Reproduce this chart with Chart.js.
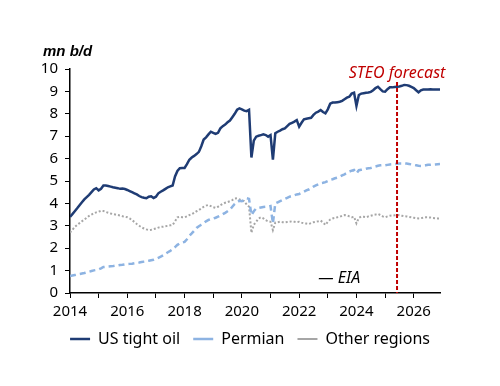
<!DOCTYPE html>
<html>
<head>
<meta charset="utf-8">
<script src="https://cdn.jsdelivr.net/npm/chart.js@4.4.1/dist/chart.umd.min.js"></script>
<style>
  html, body { margin: 0; padding: 0; background: #fff; }
  #wrap { width: 500px; height: 386px; position: relative; }
</style>
</head>
<body>
<div id="wrap"><canvas id="chart"></canvas></div>
<script>
// monthly data, Jan 2014 - Dec 2026 (mn b/d)
const startYear = 2014;
const forecastStart = 2025 + 5 / 12; // Jun 2025

const tightOil = [
  3.40, 3.52, 3.65, 3.78, 3.92, 4.05, 4.18, 4.28, 4.38, 4.50, 4.62, 4.68, // 2014
  4.58, 4.65, 4.80, 4.80, 4.78, 4.75, 4.72, 4.70, 4.68, 4.65, 4.66, 4.64, // 2015
  4.60, 4.55, 4.50, 4.45, 4.40, 4.33, 4.28, 4.25, 4.23, 4.30, 4.32, 4.24, // 2016
  4.30, 4.45, 4.52, 4.58, 4.65, 4.72, 4.76, 4.80, 5.20, 5.45, 5.57, 5.58, // 2017
  5.58, 5.75, 5.95, 6.05, 6.12, 6.20, 6.30, 6.55, 6.85, 6.95, 7.08, 7.20, // 2018
  7.15, 7.10, 7.15, 7.35, 7.45, 7.52, 7.62, 7.70, 7.85, 8.00, 8.18, 8.24, // 2019
  8.20, 8.14, 8.12, 8.18, 6.05, 6.80, 6.98, 7.02, 7.05, 7.08, 7.05, 6.98, // 2020
  7.05, 5.95, 7.13, 7.20, 7.25, 7.31, 7.35, 7.45, 7.55, 7.60, 7.65, 7.72, // 2021
  7.43, 7.60, 7.75, 7.78, 7.80, 7.82, 7.95, 8.05, 8.10, 8.17, 8.08, 8.02, // 2022
  8.20, 8.45, 8.50, 8.50, 8.52, 8.54, 8.58, 8.65, 8.72, 8.76, 8.90, 8.94, // 2023
  8.35, 8.84, 8.90, 8.92, 8.94, 8.95, 8.98, 9.05, 9.15, 9.21, 9.10, 9.00, // 2024
  8.99, 9.10, 9.18, 9.18, 9.20, 9.21, 9.22, 9.25, 9.29, 9.28, 9.25, 9.20, // 2025
  9.15, 9.05, 8.96, 9.05, 9.08, 9.09, 9.09, 9.10, 9.09, 9.09, 9.08, 9.08  // 2026
];

const permian = [
  0.76, 0.78, 0.80, 0.82, 0.85, 0.87, 0.89, 0.92, 0.95, 0.98, 1.01, 1.03,
  1.05, 1.10, 1.16, 1.17, 1.18, 1.19, 1.20, 1.22, 1.23, 1.25, 1.26, 1.28,
  1.29, 1.30, 1.31, 1.33, 1.35, 1.36, 1.38, 1.40, 1.42, 1.44, 1.46, 1.48,
  1.52, 1.57, 1.62, 1.68, 1.75, 1.82, 1.88, 1.95, 2.05, 2.15, 2.22, 2.25,
  2.28, 2.40, 2.55, 2.66, 2.78, 2.90, 2.98, 3.05, 3.12, 3.20, 3.26, 3.30,
  3.32, 3.36, 3.41, 3.46, 3.52, 3.58, 3.65, 3.72, 3.85, 3.98, 4.05, 4.12,
  4.10, 4.15, 4.23, 4.20, 3.48, 3.65, 3.78, 3.80, 3.82, 3.84, 3.85, 3.85,
  3.88, 3.11, 4.00, 4.05, 4.10, 4.15, 4.20, 4.25, 4.30, 4.33, 4.36, 4.40,
  4.42, 4.47, 4.52, 4.58, 4.62, 4.68, 4.75, 4.80, 4.85, 4.90, 4.92, 4.95,
  5.00, 5.05, 5.08, 5.12, 5.15, 5.19, 5.25, 5.30, 5.36, 5.42, 5.46, 5.49,
  5.34, 5.48, 5.50, 5.52, 5.55, 5.57, 5.58, 5.62, 5.65, 5.68, 5.70, 5.71,
  5.70, 5.72, 5.74, 5.75, 5.76, 5.77, 5.78, 5.78, 5.79, 5.78, 5.76, 5.74,
  5.72, 5.70, 5.68, 5.67, 5.68, 5.70, 5.72, 5.72, 5.73, 5.74, 5.75, 5.76
];

const otherRegions = [
  2.70, 2.82, 2.95, 3.04, 3.12, 3.20, 3.28, 3.36, 3.44, 3.50, 3.56, 3.60,
  3.63, 3.67, 3.66, 3.62, 3.58, 3.55, 3.52, 3.50, 3.48, 3.46, 3.43, 3.41,
  3.38, 3.33, 3.25, 3.17, 3.08, 3.00, 2.93, 2.88, 2.84, 2.81, 2.82, 2.85,
  2.88, 2.92, 2.95, 2.96, 2.98, 3.00, 3.02, 3.04, 3.20, 3.38, 3.40, 3.38,
  3.38, 3.42, 3.48, 3.52, 3.58, 3.65, 3.70, 3.78, 3.85, 3.90, 3.93, 3.88,
  3.83, 3.80, 3.85, 3.92, 3.98, 4.03, 4.06, 4.10, 4.15, 4.22, 4.23, 4.18,
  4.12, 4.10, 3.95, 3.85, 2.69, 3.05, 3.18, 3.33, 3.38, 3.33, 3.25, 3.20,
  3.18, 2.81, 3.14, 3.16, 3.18, 3.16, 3.15, 3.17, 3.18, 3.20, 3.18, 3.16,
  3.18, 3.14, 3.11, 3.10, 3.08, 3.12, 3.16, 3.18, 3.20, 3.23, 3.15, 3.04,
  3.18, 3.28, 3.33, 3.35, 3.38, 3.40, 3.45, 3.48, 3.46, 3.42, 3.38, 3.40,
  3.11, 3.35, 3.41, 3.40, 3.38, 3.42, 3.45, 3.48, 3.50, 3.53, 3.48, 3.42,
  3.38, 3.42, 3.45, 3.46, 3.47, 3.48, 3.47, 3.45, 3.43, 3.42, 3.40, 3.38,
  3.36, 3.34, 3.33, 3.34, 3.36, 3.38, 3.38, 3.37, 3.35, 3.34, 3.33, 3.33
];

const seriesNames = ['US tight oil', 'Permian', 'Other regions'];

// month -> decimal year for the linear time axis
const months = tightOil.map((v, i) => startYear + i / 12);
const toPoints = arr => arr.map((v, i) => ({ x: months[i], y: v }));

const tickFont = { family: '"Noto Sans", sans-serif', size: 15 };

// red forecast line + text labels
const annotations = {
  id: 'annotations',
  afterDatasetsDraw(chart) {
    const { ctx, chartArea } = chart;
    const x = chart.scales.x;
    const fx = x.getPixelForValue(forecastStart);
    ctx.save();
    ctx.strokeStyle = '#C00000';
    ctx.lineWidth = 2;
    ctx.setLineDash([4, 2]);
    ctx.beginPath();
    ctx.moveTo(fx, chartArea.top + 13);
    ctx.lineTo(fx, chartArea.bottom);
    ctx.stroke();
    ctx.setLineDash([]);

    ctx.textBaseline = 'middle';
    ctx.textAlign = 'center';
    ctx.fillStyle = '#C00000';
    ctx.font = 'italic 16px "Noto Sans"';
    ctx.fillText('STEO forecast', fx, chartArea.top + 4);

    ctx.fillStyle = '#000';
    ctx.font = 'italic 16px "Noto Sans"';
    ctx.fillText('\u2014 EIA', x.getPixelForValue(2023.4), chartArea.bottom - 15);

    ctx.textAlign = 'left';
    ctx.font = 'bold italic 15px "Liberation Sans"';
    ctx.fillText('mn b/d', chartArea.left - 27, chartArea.top - 17);
    ctx.restore();
  }
};

new Chart(document.getElementById('chart'), {
  type: 'line',
  data: {
    datasets: [
      {
        label: seriesNames[0],
        data: toPoints(tightOil),
        borderColor: '#1F3C74',
        borderWidth: 2.5
      },
      {
        label: seriesNames[1],
        data: toPoints(permian),
        borderColor: '#8DB3E2',
        borderWidth: 2.5,
        borderDash: [6, 4]
      },
      {
        label: seriesNames[2],
        data: toPoints(otherRegions),
        borderColor: '#A6A6A6',
        borderWidth: 2,
        borderDash: [2, 2]
      }
    ]
  },
  options: {
    responsive: true,
    maintainAspectRatio: false,
    animation: false,
    devicePixelRatio: 1,
    elements: { point: { radius: 0 }, line: { tension: 0 } },
    layout: { padding: { top: 69, left: 0, right: 0, bottom: 29 } },
    scales: {
      x: {
        type: 'linear',
        min: startYear,
        max: startYear + 155 / 12,
        afterFit: s => { s.height = 25; },
        ticks: {
          stepSize: 1,
          includeBounds: false,
          autoSkip: false,
          maxRotation: 0,
          padding: 5,
          color: '#000',
          font: tickFont,
          callback: v => (Math.round(v) % 2 === 0 ? String(Math.round(v)) : '')
        },
        grid: { drawOnChartArea: false, tickLength: 5, color: '#000' },
        border: { color: '#000', width: 1.5 }
      },
      y: {
        min: 0,
        max: 10,
        afterFit: s => { s.width = 70; },
        ticks: { stepSize: 1, autoSkip: false, padding: 7, color: '#000', font: tickFont },
        grid: { drawOnChartArea: false, tickLength: 5, color: '#000' },
        border: { color: '#000', width: 1.5 }
      },
      // empty right-hand spacer so the plot stops at the same place as the original
      spacer: {
        position: 'right',
        afterFit: s => { s.width = 60; },
        ticks: { display: false },
        grid: { display: false },
        border: { display: false }
      }
    },
    plugins: {
      legend: {
        position: 'bottom',
        labels: {
          usePointStyle: true,
          pointStyle: 'line',
          pointStyleWidth: 20,
          padding: 13,
          color: '#000',
          font: { family: '"Noto Sans", sans-serif', size: 16 }
        }
      },
      tooltip: { enabled: false }
    }
  },
  plugins: [annotations]
});
</script>
</body>
</html>
